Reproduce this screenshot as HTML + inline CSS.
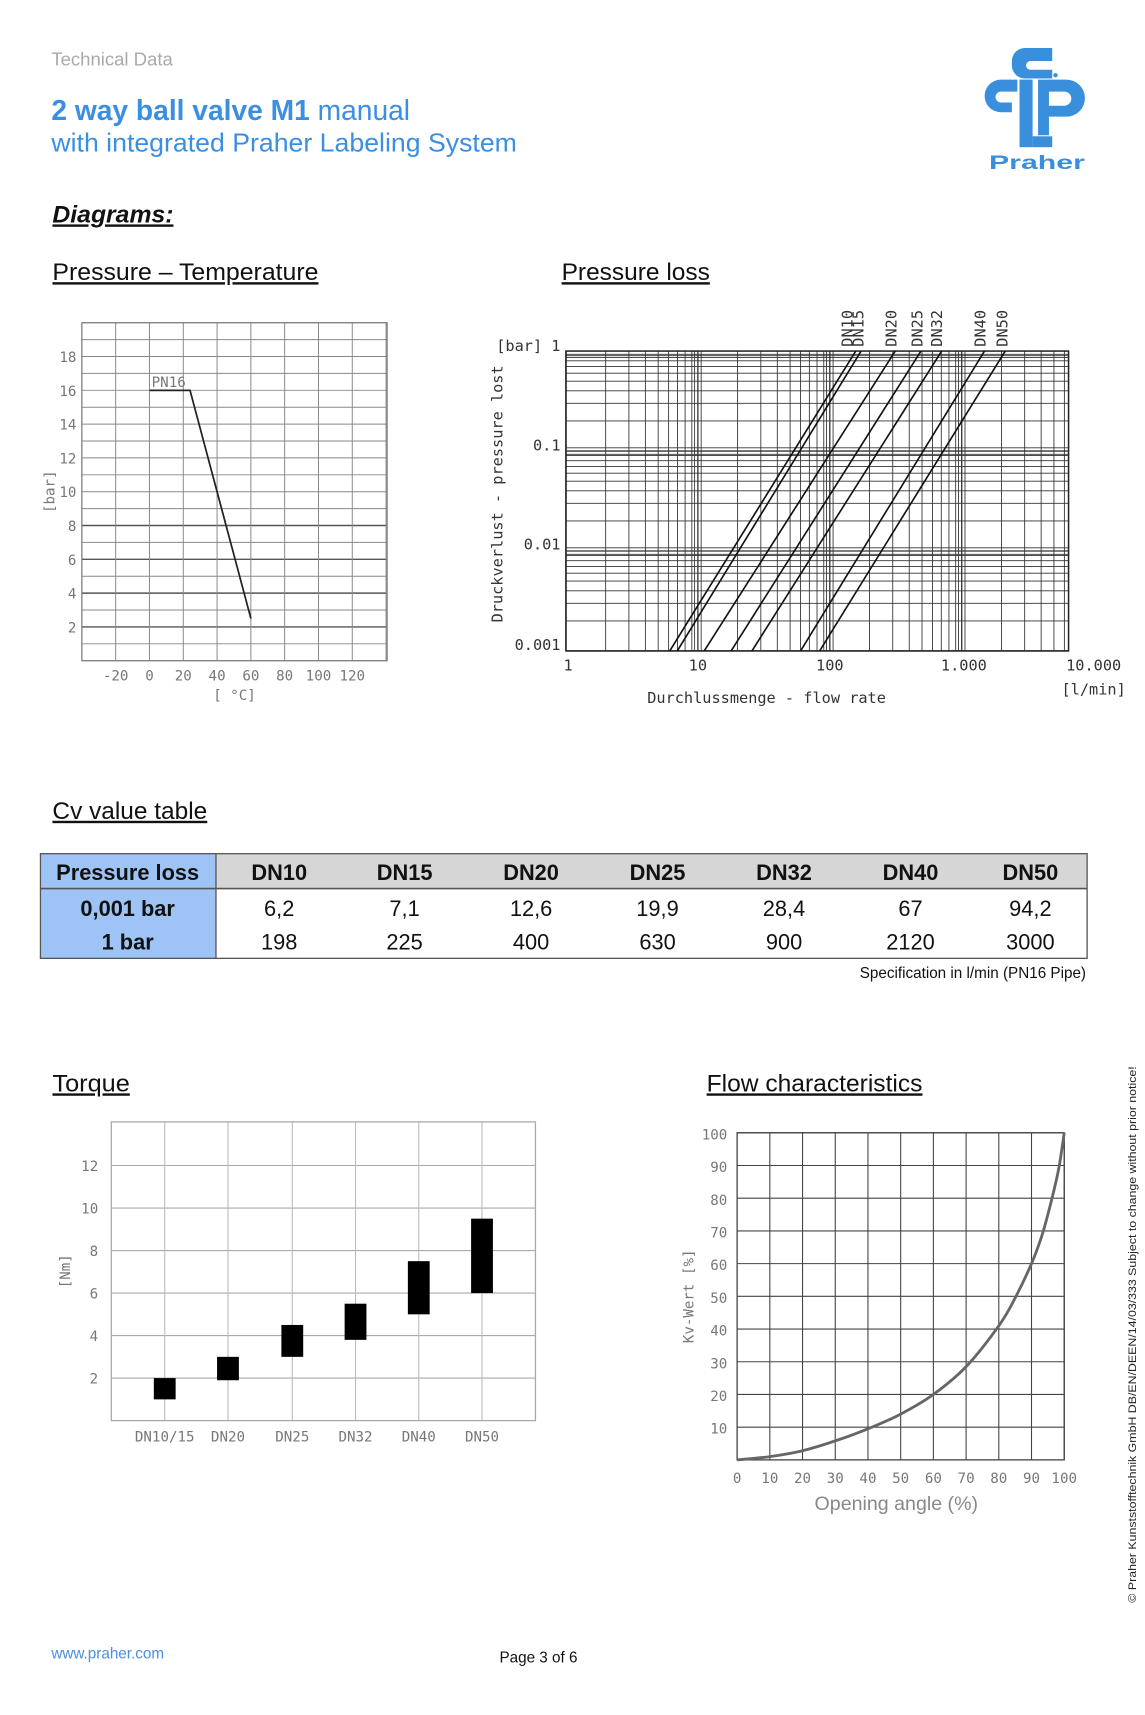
<!DOCTYPE html>
<html><head><meta charset="utf-8"><style>
html,body{margin:0;padding:0;background:#fff;width:1145px;height:1715px;overflow:hidden}
svg{display:block}
text{font-family:"Liberation Sans",sans-serif}
.ax{font-family:"DejaVu Sans Mono","Liberation Mono",monospace;fill:#777;font-size:13px}
.ax2{font-family:"DejaVu Sans Mono","Liberation Mono",monospace;fill:#333;font-size:14px}
</style></head><body>
<svg id="s" width="1145" height="1715" viewBox="0 0 1050 1573" xmlns="http://www.w3.org/2000/svg">
<rect width="1050" height="1573" fill="#fff"/>
<text x="47" y="60" font-size="17" fill="#aaa">Technical Data</text>
<text x="47" y="110" font-size="26" fill="#3b8fe3" textLength="329" lengthAdjust="spacingAndGlyphs"><tspan font-weight="bold">2 way ball valve M1</tspan><tspan> manual</tspan></text>
<text x="47" y="139" font-size="24" fill="#3b8fe3" textLength="427" lengthAdjust="spacingAndGlyphs">with integrated Praher Labeling System</text>
<!-- logo -->
<g fill="#3a8fdc">
<path d="M965 44 H940 a12 12 0 0 0 -12 12 v4 a12 12 0 0 0 12 12 H965 V64 H945 a4 4 0 0 1 0 -8 H965 Z"/>
<rect x="935" y="73" width="12" height="62"/>
<rect x="947" y="125" width="18" height="10"/>
<path d="M933 73 H918 a15 15 0 0 0 0 30 H928 V94 H918 a5 5 0 0 1 0 -10 H933 Z"/>
<path d="M952 73 H978 a17 17 0 0 1 0 34 H962 V124 H952 Z M962 84 V97 H976 a6.5 6.5 0 0 0 0 -13 Z"/>
<circle cx="968" cy="69" r="2"/>
</g>
<text x="907" y="155" font-size="18" font-weight="bold" fill="#3a8fdc" textLength="88" lengthAdjust="spacingAndGlyphs">Praher</text>

<text x="48" y="204" font-size="22" font-weight="bold" font-style="italic" fill="#111" text-decoration="underline" textLength="111" lengthAdjust="spacingAndGlyphs">Diagrams:</text>
<text x="48" y="257" font-size="22" fill="#111" text-decoration="underline" textLength="244" lengthAdjust="spacingAndGlyphs">Pressure – Temperature</text>
<text x="515" y="257" font-size="22" fill="#111" text-decoration="underline" textLength="136" lengthAdjust="spacingAndGlyphs">Pressure loss</text>
<text x="48" y="751" font-size="22" fill="#111" text-decoration="underline" textLength="142" lengthAdjust="spacingAndGlyphs">Cv value table</text>
<text x="48" y="1001" font-size="22" fill="#111" text-decoration="underline" textLength="71" lengthAdjust="spacingAndGlyphs">Torque</text>
<text x="648" y="1001" font-size="22" fill="#111" text-decoration="underline" textLength="198" lengthAdjust="spacingAndGlyphs">Flow characteristics</text>

<g id="pt"></g>
<g id="pl"></g>

<!-- table -->
<g transform="translate(0,2)">
<rect x="37" y="781" width="161" height="96" fill="#9dc4f4"/>
<rect x="198" y="781" width="799" height="32" fill="#d6d6d6"/>
<rect x="37" y="781" width="960" height="96" fill="none" stroke="#555" stroke-width="1.2"/>
<line x1="37" y1="813" x2="997" y2="813" stroke="#555" stroke-width="1.5"/>
<line x1="198" y1="781" x2="198" y2="877" stroke="#555" stroke-width="1.2"/>
<g font-size="20" fill="#111" text-anchor="middle">
<text x="117" y="805" font-weight="bold">Pressure loss</text>
<text x="117" y="838" font-weight="bold">0,001 bar</text>
<text x="117" y="869" font-weight="bold">1 bar</text>
<g font-weight="bold"><text x="256" y="805">DN10</text><text x="371" y="805">DN15</text><text x="487" y="805">DN20</text><text x="603" y="805">DN25</text><text x="719" y="805">DN32</text><text x="835" y="805">DN40</text><text x="945" y="805">DN50</text></g>
<text x="256" y="838">6,2</text><text x="371" y="838">7,1</text><text x="487" y="838">12,6</text><text x="603" y="838">19,9</text><text x="719" y="838">28,4</text><text x="835" y="838">67</text><text x="945" y="838">94,2</text>
<text x="256" y="869">198</text><text x="371" y="869">225</text><text x="487" y="869">400</text><text x="603" y="869">630</text><text x="719" y="869">900</text><text x="835" y="869">2120</text><text x="945" y="869">3000</text>
</g>
<text x="996" y="895" font-size="14" fill="#111" text-anchor="end">Specification in l/min (PN16 Pipe)</text>
</g>

<g id="tq"></g>
<g id="fc"></g>

<text transform="translate(1042,1470) rotate(-90)" font-size="10.5" fill="#222" textLength="492" lengthAdjust="spacingAndGlyphs">© Praher Kunststofftechnik GmbH DB/EN/DEEN/14/03/333 Subject to change without prior notice!</text>
<text x="47" y="1521" font-size="14" fill="#4a8ee0">www.praher.com</text>
<text x="458" y="1525" font-size="14" fill="#111">Page 3 of 6</text>
</svg>
<script>
var NS="http://www.w3.org/2000/svg";
function el(p,t,a,txt){var e=document.createElementNS(NS,t);for(var k in a)e.setAttribute(k,a[k]);if(txt!=null)e.textContent=txt;document.getElementById(p).appendChild(e);return e;}
function L(p,x1,y1,x2,y2,c,w){el(p,"line",{x1:x1,y1:y1,x2:x2,y2:y2,stroke:c||"#666","stroke-width":w||0.9});}
(function(){
 var X=function(t){return 75+(t+40)*1.55},Y=function(v){return 606-v*15.5};
 for(var v=0;v<=20;v++){var dk=v%2==0&&v<=8&&v>0;L("pt",75,Y(v),355,Y(v),dk?"#555":"#888",dk?1.3:0.9);}
 for(var t=-40;t<=140;t+=20){L("pt",X(t),296,X(t),606,"#888",0.9);}
 el("pt","rect",{x:75,y:296,width:280,height:310,fill:"none",stroke:"#777","stroke-width":1});
 for(var v=2;v<=18;v+=2)el("pt","text",{x:70,y:Y(v)+5,"text-anchor":"end","class":"ax"},v);
 [-20,0,20,40,60,80,100,120].forEach(function(t){el("pt","text",{x:X(t),y:624,"text-anchor":"middle","class":"ax"},t)});
 el("pt","text",{x:215,y:642,"text-anchor":"middle","class":"ax"},"[ °C]");
 el("pt","text",{transform:"translate(50,451) rotate(-90)","text-anchor":"middle","class":"ax"},"[bar]");
 el("pt","text",{x:139,y:355,"class":"ax","font-size":"11"},"PN16");
 el("pt","polyline",{points:X(0)+","+Y(16)+" "+X(24)+","+Y(16)+" "+X(60)+","+Y(2.5),fill:"none",stroke:"#222","stroke-width":1.6});
})();
(function(){
 var X=function(v){return 519+121*Math.log10(v)},Y=function(p){return 322-91.7*Math.log10(p)};
 var xmax=980;
 for(var n=0;n<4;n++)for(var k=1;k<10;k++){var x=X(k*Math.pow(10,n));if(x<=xmax){L("pl",x,322,x,597,"#333",k==1?1.2:0.8);if(k==1&&n>0){L("pl",x-3,322,x-3,597,"#333",0.8);L("pl",x+3,322,x+3,597,"#333",0.8);}}}
 for(var n=-3;n<0;n++)for(var k=1;k<10;k++){var y=Y(k*Math.pow(10,n));L("pl",519,y,xmax,y,"#333",k==1?1.2:0.8);if(k==1&&n>-3){L("pl",519,y-3,xmax,y-3,"#333",0.8);L("pl",519,y+3,xmax,y+3,"#333",0.8);}}
 L("pl",519,Y(1)+3,xmax,Y(1)+3,"#333",0.8);L("pl",519,Y(1)+6,xmax,Y(1)+6,"#333",0.8);
 el("pl","rect",{x:519,y:322,width:xmax-519,height:275,fill:"none",stroke:"#222","stroke-width":1.4});
 var tops=[784.8,789.7,821,844.6,863.6,902.9,921.9],bots=[614.2,621.1,645.8,670.5,689.6,734.2,751.7];
 for(var i=0;i<7;i++)L("pl",bots[i],597,tops[i],322,"#111",1.5);
 var names=["DN10","DN15","DN20","DN25","DN32","DN40","DN50"],lx=[782,792,822,846,864,904,924];
 for(var i=0;i<7;i++)el("pl","text",{transform:"translate("+lx[i]+",318) rotate(-90)","class":"ax2","font-size":"11",fill:"#333"},names[i]);
 el("pl","text",{x:514,y:322,"text-anchor":"end","class":"ax2"},"[bar] 1");
 el("pl","text",{x:514,y:413,"text-anchor":"end","class":"ax2"},"0.1");
 el("pl","text",{x:514,y:504,"text-anchor":"end","class":"ax2"},"0.01");
 el("pl","text",{x:514,y:596,"text-anchor":"end","class":"ax2"},"0.001");
 [["1",521],["10",640],["100",761],["1.000",884],["10.000",1003]].forEach(function(a){el("pl","text",{x:a[1],y:615,"text-anchor":"middle","class":"ax2"},a[0])});
 el("pl","text",{x:1003,y:637,"text-anchor":"middle","class":"ax2"},"[l/min]");
 el("pl","text",{x:703,y:645,"text-anchor":"middle","class":"ax2"},"Durchlussmenge - flow rate");
 el("pl","text",{transform:"translate(461,453) rotate(-90)","text-anchor":"middle","class":"ax2"},"Druckverlust - pressure lost");
})();
(function(){
 var Y=function(v){return 1303-v*19.5};
 var cx=[151,209,268,326,384,442];
 for(var v=2;v<=12;v+=2)L("tq",102,Y(v),491,Y(v),"#aaa",1);
 cx.forEach(function(x){L("tq",x,1029,x,1303,"#bbb",1)});
 el("tq","rect",{x:102,y:1029,width:389,height:274,fill:"none",stroke:"#aaa","stroke-width":1.2});
 for(var v=2;v<=12;v+=2)el("tq","text",{x:90,y:Y(v)+5,"text-anchor":"end","class":"ax","font-size":"14"},v);
 var r=[[1,2],[1.9,3],[3,4.5],[3.8,5.5],[5,7.5],[6,9.5]];
 for(var i=0;i<6;i++)el("tq","rect",{x:cx[i]-10,y:Y(r[i][1]),width:20,height:(r[i][1]-r[i][0])*19.5,fill:"#000"});
 var nm=["DN10/15","DN20","DN25","DN32","DN40","DN50"];
 for(var i=0;i<6;i++)el("tq","text",{x:cx[i],y:1322,"text-anchor":"middle","class":"ax","font-size":"14"},nm[i]);
 el("tq","text",{transform:"translate(64,1166) rotate(-90)","text-anchor":"middle","class":"ax"},"[Nm]");
})();
(function(){
 var X=function(a){return 676+a*3},Y=function(v){return 1339-v*3};
 for(var v=10;v<=100;v+=10)L("fc",676,Y(v),976,Y(v),"#444",1);
 for(var a=10;a<=100;a+=10)L("fc",X(a),1039,X(a),1339,"#444",1);
 el("fc","rect",{x:676,y:1039,width:300,height:300,fill:"none",stroke:"#444","stroke-width":1.2});
 for(var v=10;v<=100;v+=10)el("fc","text",{x:667,y:Y(v)+6,"text-anchor":"end","class":"ax","font-size":"15"},v);
 for(var a=0;a<=100;a+=10)el("fc","text",{x:X(a),y:1360,"text-anchor":"middle","class":"ax","font-size":"15"},a);
 el("fc","text",{x:822,y:1385,"text-anchor":"middle","font-size":"18",fill:"#888"},"Opening angle (%)");
 el("fc","text",{transform:"translate(636,1189) rotate(-90)","text-anchor":"middle","class":"ax","font-size":"15"},"Kv-Wert [%]");
 var pts=[[0,0],[10,1],[20,2.8],[30,5.8],[40,9.5],[50,14],[60,20],[70,28.5],[80,41],[85,49.5],[90,60],[93,68],[95,75],[97,83],[98.5,90],[100,100]];
 var d="M"+X(0)+","+Y(0);
 for(var i=1;i<pts.length;i++){var p0=pts[i-1],p1=pts[i],pm=pts[Math.max(i-2,0)],pn=pts[Math.min(i+1,pts.length-1)];
  var c1x=X(p0[0])+(X(p1[0])-X(pm[0]))/6,c1y=Y(p0[1])+(Y(p1[1])-Y(pm[1]))/6,c2x=X(p1[0])-(X(pn[0])-X(p0[0]))/6,c2y=Y(p1[1])-(Y(pn[1])-Y(p0[1]))/6;
  d+=" C"+c1x+","+c1y+" "+c2x+","+c2y+" "+X(p1[0])+","+Y(p1[1]);}
 el("fc","path",{d:d,fill:"none",stroke:"#666","stroke-width":2.6,"stroke-linejoin":"round"});
})();
</script>
</body></html>
